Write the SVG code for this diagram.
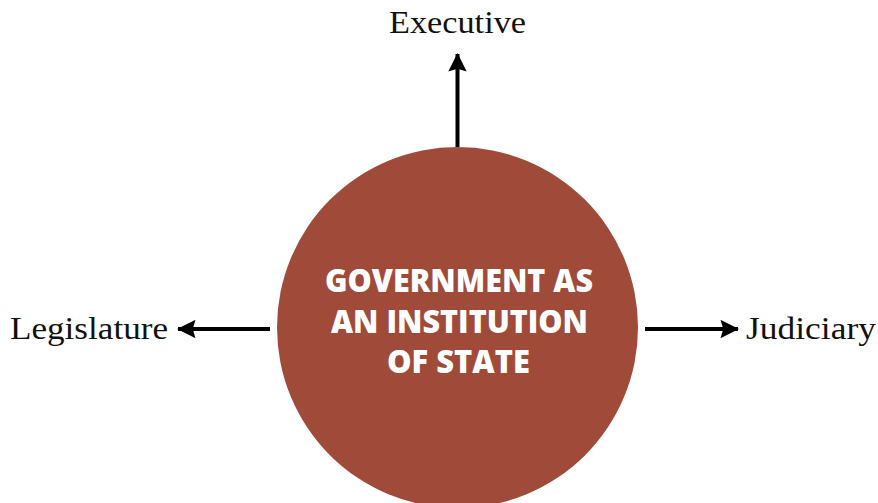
<svg xmlns="http://www.w3.org/2000/svg" width="878" height="503" viewBox="0 0 878 503">
<style>
.lbl{font-family:"Liberation Serif","Times New Roman",serif;font-size:31px;fill:#111}
.ctr{font-family:"Open Sans","Noto Sans",sans-serif;font-weight:800;font-size:31px;fill:#fff;text-anchor:middle}
.con{stroke:#000;stroke-width:4;fill:none}
</style>
<defs>
<marker id="ah" viewBox="0 0 10 10" refX="9.5" refY="5" markerWidth="6.2" markerHeight="4.6" markerUnits="strokeWidth" orient="auto">
<path d="M0,0 L10,5 L0,10 L1.5,5 z" fill="#000"/>
</marker>
</defs>
<rect width="878" height="503" fill="#fff"/>
<g id="connectors">
<line class="con" x1="457.5" y1="147" x2="457.5" y2="54" marker-end="url(#ah)"/>
<line class="con" x1="270" y1="329" x2="178" y2="329" marker-end="url(#ah)"/>
<line class="con" x1="645" y1="329" x2="738" y2="329" marker-end="url(#ah)"/>
</g>
<g id="center">
<circle cx="457.5" cy="327.5" r="180.5" fill="#A04A3A"/>
<text class="ctr" x="459" y="292" textLength="268" lengthAdjust="spacingAndGlyphs">GOVERNMENT AS</text>
<text class="ctr" x="459.5" y="333" textLength="257" lengthAdjust="spacingAndGlyphs">AN INSTITUTION</text>
<text class="ctr" x="458.5" y="373" textLength="143" lengthAdjust="spacingAndGlyphs">OF STATE</text>
</g>
<g id="executive"><text class="lbl" x="389" y="33" textLength="137" lengthAdjust="spacingAndGlyphs">Executive</text></g>
<g id="legislature"><text class="lbl" x="10" y="339" textLength="158" lengthAdjust="spacingAndGlyphs">Legislature</text></g>
<g id="judiciary"><text class="lbl" x="746" y="339" textLength="130" lengthAdjust="spacingAndGlyphs">Judiciary</text></g>
</svg>
